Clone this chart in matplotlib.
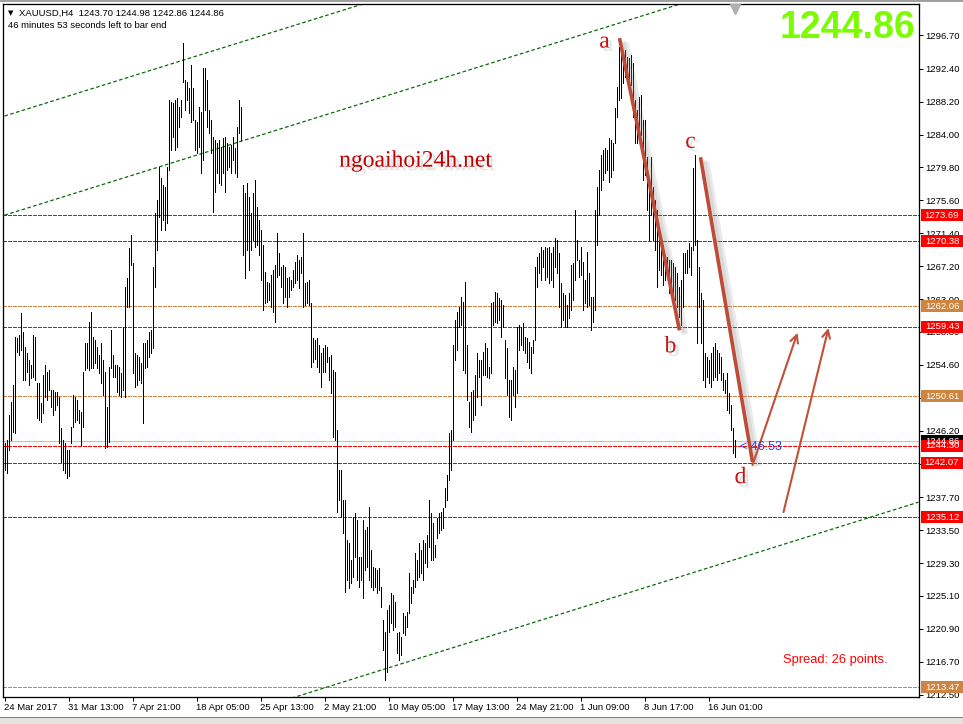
import numpy as np
import matplotlib
matplotlib.use("Agg")
import matplotlib.pyplot as plt
import matplotlib.patheffects as pe
from matplotlib.patches import Rectangle
from matplotlib.transforms import blended_transform_factory

plt.rcParams['font.family'] = ['Liberation Sans', 'DejaVu Sans']

# H4 bars XAUUSD, 24 Mar 2017 .. 20 Jun 2017 (high / low)
highs = [
    1244.6, 1245.0, 1248.2, 1249.9, 1252.0, 1258.1, 1258.0, 1258.4, 1261.2, 1258.8,
    1256.9, 1256.1, 1255.2, 1254.6, 1258.4, 1258.1, 1252.3, 1252.3, 1249.7, 1253.3,
    1254.6, 1253.7, 1253.9, 1251.4, 1251.4, 1251.1, 1251.1, 1250.5, 1246.5, 1245.0,
    1244.6, 1243.7, 1243.7, 1246.7, 1250.7, 1250.5, 1250.1, 1248.8, 1248.6, 1253.7,
    1257.4, 1257.4, 1260.1, 1261.3, 1258.2, 1257.8, 1256.9, 1255.9, 1257.4, 1255.2,
    1253.7, 1249.2, 1254.3, 1259.0, 1255.8, 1254.6, 1254.6, 1254.3, 1253.6, 1259.4,
    1264.5, 1265.7, 1269.5, 1271.2, 1267.6, 1256.1, 1255.8, 1255.6, 1254.8, 1257.4,
    1257.4, 1257.8, 1258.8, 1259.0, 1267.1, 1274.0, 1275.6, 1279.9, 1278.4, 1277.6,
    1277.3, 1279.9, 1288.4, 1288.1, 1288.0, 1288.4, 1288.7, 1287.5, 1288.4, 1295.7,
    1290.9, 1290.7, 1289.9, 1292.9, 1289.9, 1285.9, 1285.6, 1287.5, 1286.9, 1292.5,
    1292.5, 1291.0, 1287.1, 1285.9, 1283.7, 1283.3, 1282.9, 1283.3, 1282.4, 1283.6,
    1283.7, 1282.9, 1282.4, 1282.7, 1283.7, 1282.3, 1284.9, 1288.4, 1287.5, 1277.6,
    1276.5, 1277.8, 1276.0, 1274.0, 1276.5, 1278.2, 1274.8, 1273.1, 1271.8, 1269.9,
    1266.4, 1265.2, 1265.0, 1266.1, 1266.7, 1267.3, 1271.4, 1268.9, 1267.1, 1267.3,
    1267.1, 1265.7, 1265.8, 1265.4, 1266.7, 1267.7, 1268.6, 1268.0, 1268.4, 1271.4,
    1265.0, 1265.2, 1265.4, 1262.5, 1258.0, 1257.8, 1258.0, 1257.1, 1256.1, 1256.8,
    1257.1, 1256.9, 1255.6, 1255.8, 1253.9, 1253.7, 1246.3, 1241.2, 1241.2, 1237.4,
    1237.4, 1232.2, 1231.9, 1229.7, 1235.2, 1235.7, 1234.8, 1230.1, 1230.1, 1234.8,
    1233.5, 1233.9, 1236.4, 1231.0, 1228.8, 1228.7, 1228.4, 1228.7, 1226.2, 1222.0,
    1220.5, 1223.3, 1223.9, 1225.5, 1225.2, 1224.3, 1220.4, 1220.5, 1219.9, 1222.9,
    1222.6, 1223.0, 1228.0, 1226.2, 1227.1, 1230.6, 1229.7, 1231.9, 1231.0, 1232.2,
    1231.8, 1232.9, 1237.4, 1235.7, 1234.4, 1231.6, 1235.0, 1235.7, 1235.8, 1236.3,
    1238.9, 1240.5, 1245.9, 1246.3, 1257.1, 1260.3, 1261.3, 1262.0, 1263.3, 1262.6,
    1265.2, 1257.1, 1249.8, 1251.1, 1251.4, 1253.3, 1256.1, 1255.2, 1255.2, 1256.2,
    1257.4, 1256.8, 1254.3, 1262.5, 1262.6, 1263.9, 1263.8, 1263.1, 1262.9, 1262.2,
    1257.8, 1256.8, 1252.7, 1252.7, 1254.3, 1253.9, 1259.4, 1259.7, 1259.4, 1259.9,
    1258.1, 1258.0, 1257.5, 1256.9, 1257.8, 1267.1, 1268.4, 1268.9, 1269.6, 1269.3,
    1269.6, 1269.5, 1269.6, 1268.9, 1269.6, 1270.8, 1270.5, 1268.9, 1265.0, 1263.8,
    1263.5, 1262.2, 1263.8, 1267.3, 1267.6, 1274.4, 1270.5, 1268.0, 1269.6, 1267.7,
    1265.4, 1269.0, 1266.3, 1263.3, 1263.3, 1274.4, 1277.3, 1279.5, 1281.4, 1282.0,
    1282.3, 1282.0, 1283.6, 1283.3, 1282.9, 1287.4, 1290.1, 1295.2, 1295.4, 1294.4,
    1294.8, 1293.9, 1293.8, 1294.2, 1293.1, 1288.4, 1287.1, 1288.8, 1289.0, 1285.9,
    1285.9, 1281.1, 1278.2, 1281.1, 1277.3, 1275.6, 1274.4, 1270.5, 1270.5, 1269.9,
    1268.4, 1268.4, 1268.0, 1268.0, 1267.6, 1267.1, 1266.3, 1264.5, 1265.4, 1268.9,
    1268.9, 1269.3, 1270.1, 1269.6, 1279.7, 1281.4, 1270.5, 1267.1, 1263.8, 1262.9,
    1256.1, 1255.6, 1255.2, 1256.1, 1256.9, 1257.4, 1256.5, 1256.1, 1255.6, 1253.6,
    1252.7, 1253.6, 1251.0, 1249.5, 1246.5, 1244.98,
]
lows = [
    1241.2, 1240.8, 1243.7, 1245.0, 1246.0, 1245.9, 1256.2, 1255.8, 1256.5, 1252.7,
    1252.7, 1253.7, 1252.0, 1252.9, 1253.0, 1252.7, 1247.8, 1247.6, 1247.3, 1248.4,
    1250.5, 1250.1, 1251.4, 1249.2, 1248.2, 1248.8, 1249.5, 1244.6, 1242.2, 1241.2,
    1240.8, 1240.2, 1240.4, 1244.6, 1246.7, 1247.3, 1247.6, 1247.2, 1244.4, 1246.7,
    1253.9, 1254.2, 1253.9, 1254.2, 1254.2, 1254.8, 1254.2, 1253.6, 1252.3, 1250.7,
    1244.0, 1244.1, 1244.8, 1254.2, 1253.0, 1253.0, 1251.1, 1250.7, 1250.5, 1251.4,
    1250.5, 1262.0, 1262.0, 1267.3, 1253.6, 1251.8, 1252.0, 1252.7, 1252.3, 1247.2,
    1254.2, 1254.3, 1255.6, 1256.1, 1256.8, 1264.5, 1269.3, 1273.5, 1271.8, 1273.1,
    1271.8, 1272.7, 1279.5, 1282.0, 1283.7, 1282.0, 1282.4, 1285.0, 1286.2, 1290.7,
    1287.1, 1288.4, 1286.7, 1285.6, 1285.9, 1282.0, 1281.6, 1282.4, 1279.1, 1280.8,
    1287.1, 1284.9, 1284.2, 1281.6, 1274.1, 1276.7, 1279.1, 1277.8, 1277.6, 1279.1,
    1276.7, 1279.5, 1279.9, 1279.1, 1280.8, 1279.1, 1278.6, 1284.2, 1283.3, 1268.6,
    1265.7, 1269.3, 1266.7, 1269.3, 1270.5, 1269.6, 1269.9, 1268.6, 1265.4, 1261.6,
    1262.5, 1262.6, 1262.9, 1262.0, 1261.3, 1260.1, 1265.8, 1266.1, 1264.5, 1262.5,
    1263.3, 1262.0, 1263.3, 1264.2, 1264.5, 1265.0, 1265.4, 1264.4, 1266.3, 1262.0,
    1262.2, 1262.5, 1262.2, 1254.3, 1254.9, 1255.4, 1254.3, 1253.7, 1251.8, 1253.7,
    1253.7, 1255.0, 1252.7, 1251.0, 1245.4, 1245.0, 1235.8, 1237.4, 1235.2, 1233.1,
    1225.6, 1227.1, 1226.1, 1226.8, 1227.5, 1230.1, 1227.1, 1226.3, 1227.1, 1224.8,
    1228.4, 1228.8, 1227.1, 1226.2, 1225.9, 1226.2, 1225.5, 1225.9, 1223.7, 1218.2,
    1214.4, 1215.4, 1220.5, 1221.6, 1220.8, 1221.1, 1217.8, 1216.9, 1217.6, 1220.4,
    1220.1, 1221.1, 1222.9, 1224.2, 1225.5, 1226.2, 1227.1, 1227.5, 1228.0, 1227.1,
    1229.3, 1228.8, 1231.3, 1229.7, 1229.7, 1230.1, 1232.5, 1233.1, 1233.5, 1233.8,
    1236.4, 1237.4, 1239.9, 1241.2, 1245.0, 1255.2, 1256.5, 1259.4, 1259.7, 1253.9,
    1253.6, 1250.1, 1246.7, 1246.0, 1247.6, 1248.2, 1250.5, 1253.0, 1249.5, 1253.3,
    1253.3, 1253.0, 1252.9, 1253.5, 1259.7, 1260.1, 1259.9, 1260.3, 1258.1, 1259.4,
    1252.9, 1250.7, 1247.9, 1247.6, 1250.7, 1249.2, 1251.0, 1256.5, 1257.1, 1256.5,
    1256.1, 1254.9, 1254.2, 1253.6, 1256.1, 1257.8, 1264.5, 1266.3, 1265.4, 1267.1,
    1265.4, 1265.8, 1265.0, 1265.4, 1264.5, 1267.1, 1266.3, 1262.0, 1259.4, 1260.3,
    1259.4, 1259.4, 1260.6, 1261.6, 1262.9, 1265.4, 1268.0, 1265.8, 1266.1, 1261.6,
    1262.5, 1262.0, 1262.2, 1259.0, 1260.1, 1261.6, 1269.9, 1273.7, 1276.9, 1278.2,
    1279.1, 1279.5, 1277.9, 1278.6, 1279.5, 1282.9, 1286.2, 1288.4, 1288.7, 1290.6,
    1291.3, 1290.6, 1289.7, 1290.3, 1286.2, 1282.9, 1282.9, 1284.2, 1283.9, 1278.2,
    1278.8, 1274.4, 1270.5, 1273.7, 1270.5, 1269.3, 1264.5, 1266.7, 1266.1, 1264.8,
    1265.4, 1265.8, 1263.8, 1264.5, 1263.3, 1262.9, 1262.0, 1260.7, 1259.7, 1262.0,
    1266.3, 1266.3, 1267.1, 1266.1, 1269.3, 1269.9, 1257.4, 1262.0, 1257.4, 1252.7,
    1251.8, 1253.0, 1252.3, 1251.8, 1252.7, 1253.0, 1252.7, 1253.6, 1252.7, 1251.4,
    1251.0, 1248.8, 1248.4, 1246.3, 1243.3, 1242.86,
]

bid = 1244.86
red_levels = [1273.69, 1270.38, 1259.43, 1244.30, 1242.07, 1235.12]
brown_levels = [1262.06, 1250.61, 1213.47]

price_ticks = [1296.70, 1292.40, 1288.20, 1284.00, 1279.80, 1275.60, 1271.40,
               1267.20, 1263.00, 1258.80, 1254.60, 1250.40, 1246.20, 1242.00,
               1237.70, 1233.50, 1229.30, 1225.10, 1220.90, 1216.70, 1212.50]
# labels hidden behind the price boxes in the terminal
hidden_ticks = [1250.40, 1242.00]

date_pos = [0, 32, 64, 96, 128, 160, 192, 224, 256, 288, 320, 352]
date_labels = ['24 Mar 2017', '31 Mar 13:00', '7 Apr 21:00', '18 Apr 05:00',
               '25 Apr 13:00', '2 May 21:00', '10 May 05:00', '17 May 13:00',
               '24 May 21:00', '1 Jun 09:00', '8 Jun 17:00', '16 Jun 01:00']

# channel trendlines (bar index, price) anchors
chan_x = [0, 457]
chan_top = [1286.36, 1322.83]
chan_mid = [1273.70, 1310.17]
chan_low = [1200.60, 1237.07]

# wave drawing (bar index, price)
ab_x, ab_y = [307.5, 337.5], [1296.3, 1259.0]
cd_x, cd_y = [348.0, 374.0], [1281.1, 1242.2]
arrows = [((374.0, 1241.8), (396.5, 1258.7)), ((389.5, 1235.8), (412.0, 1259.3))]
wave_labels = [('a', 300.0, 1295.8), ('b', 333.0, 1256.9), ('c', 343.0, 1283.0), ('d', 368.0, 1240.2)]

W, H = 963, 724
PX = 0.72  # one pixel in points at dpi 100
fig = plt.figure(figsize=(W / 100, H / 100), dpi=100)
fig.patch.set_facecolor('white')

ax = fig.add_axes([3 / W, (H - 697) / H, 916 / W, 693 / H])
ax.set_xlim(-0.75, 457.25)
ax.set_ylim(1212.20, 1300.66)
for s in ax.spines.values():
    s.set_linewidth(PX * 1.3)
    s.set_color('black')

idx = np.arange(len(highs))
ax.vlines(idx, lows, highs, colors='black', linewidth=PX, zorder=4, antialiased=False)

# horizontal levels
for lv in red_levels:
    ax.axhline(lv, color='#FF0000', lw=PX, ls=(0, (4, 2)), zorder=2, antialiased=False)
for lv in brown_levels:
    ax.axhline(lv, color='#CD853F', lw=PX, ls=(0, (4, 2)), zorder=2, antialiased=False)
ax.axhline(bid, color='#C0C0C0', lw=PX, zorder=1.5, antialiased=False)

# channel
for ln in (chan_top, chan_mid, chan_low):
    ax.plot(chan_x, ln, color='#006400', lw=PX * 1.2, ls=(0, (3, 2)), zorder=2)

# wave lines with soft shadows
shadow = [pe.SimpleLineShadow(offset=(4, -3), shadow_color='#909090', alpha=0.18, linewidth=5),
          pe.SimpleLineShadow(offset=(3, -2), shadow_color='#909090', alpha=0.18), pe.Normal()]
wave_col = '#BE4B37'
ax.plot(ab_x, ab_y, color=wave_col, lw=2.6, solid_capstyle='butt', zorder=6, path_effects=shadow)
ax.plot(cd_x, cd_y, color=wave_col, lw=2.6, solid_capstyle='butt', zorder=6, path_effects=shadow)
for (x0, y0), (x1, y1) in arrows:
    ax.annotate('', xy=(x1, y1), xytext=(x0, y0),
                arrowprops=dict(arrowstyle='->', color='#C0503A', lw=1.5,
                                mutation_scale=14, shrinkA=0, shrinkB=0), zorder=6)

tshadow = [pe.SimplePatchShadow(offset=(2.5, -2.5), shadow_rgbFace='#A0A0A0', alpha=0.3), pe.Normal()]
for t, xi, yi in wave_labels:
    ax.text(xi, yi, t, family='Liberation Serif', fontsize=17, color='#C81414',
            ha='center', va='center', zorder=7, path_effects=tshadow)
ax.text(205.5, 1280.6, 'ngoaihoi24h.net', family='Liberation Serif', fontsize=17,
        color='#C00000', ha='center', va='center', zorder=7, path_effects=tshadow)

ax.text(368.0, 1244.1, '< 46.53', fontsize=9, color='#2040FF', ha='left', va='center', zorder=7)

# axes ticks
ax.yaxis.tick_right()
ax.set_yticks(price_ticks)
ax.set_yticklabels(['' if p in hidden_ticks else '%.2f' % p for p in price_ticks])
ax.tick_params(axis='y', direction='out', length=4 * PX, width=PX, labelsize=6.8, pad=2)
ax.set_xticks(date_pos)
ax.set_xticklabels(date_labels, ha='left')
ax.tick_params(axis='x', direction='out', length=4 * PX, width=PX, labelsize=6.8, pad=1.5)

# price boxes on the right scale
tr = blended_transform_factory(ax.transAxes, ax.transData)
bx0 = (921 - 3) / 916
bw = 42 / 916
bh = 12 * (1300.66 - 1212.20) / 693
def price_box(p, fc, tc='white'):
    ax.add_patch(Rectangle((bx0, p - bh / 2), bw, bh, transform=tr, facecolor=fc,
                           edgecolor='none', clip_on=False, zorder=20))
    ax.text(bx0 + bw / 2, p, '%.2f' % p, transform=tr, color=tc, fontsize=6.8,
            ha='center', va='center', clip_on=False, zorder=21)

price_box(bid, 'black')
for lv in brown_levels:
    price_box(lv, '#CD853F')
for lv in red_levels:
    price_box(lv, '#FF0000')

# chart shift marker
ax.plot([365.0], [0.993], transform=blended_transform_factory(ax.transData, ax.transAxes),
        marker='v', markersize=7, color='#B0B0B0', clip_on=False, zorder=8)

# header texts
fig.text(8 / W, 1 - 13 / H, '\u25bc', fontsize=5, va='center', ha='left', family='DejaVu Sans')
fig.text(19 / W, 1 - 13 / H, 'XAUUSD,H4  1243.70 1244.98 1242.86 1244.86', fontsize=6.8, va='center', ha='left')
fig.text(8 / W, 1 - 26 / H, '46 minutes 53 seconds left to bar end', fontsize=6.8, va='center', ha='left')
fig.text(915 / W, 1 - 28 / H, '1244.86', fontsize=27, fontweight='bold', color='#7CFC00', ha='right', va='center')
fig.text(783 / W, 1 - 660 / H, 'Spread: 26 points.', fontsize=9.3, color='#FF0000', ha='left', va='center')

# window chrome
fig.patches.append(Rectangle((0, 1 - 2 / H), 1, 2 / H, transform=fig.transFigure,
                             facecolor='#A0A0A0', edgecolor='none'))
fig.patches.append(Rectangle((0, 0), 1, 6 / H, transform=fig.transFigure,
                             facecolor='#E4E2DC', edgecolor='none'))
fig.patches.append(Rectangle((0, 6 / H), 1, 1 / H, transform=fig.transFigure,
                             facecolor='#808080', edgecolor='none'))

fig.savefig('out.png', dpi=100)
